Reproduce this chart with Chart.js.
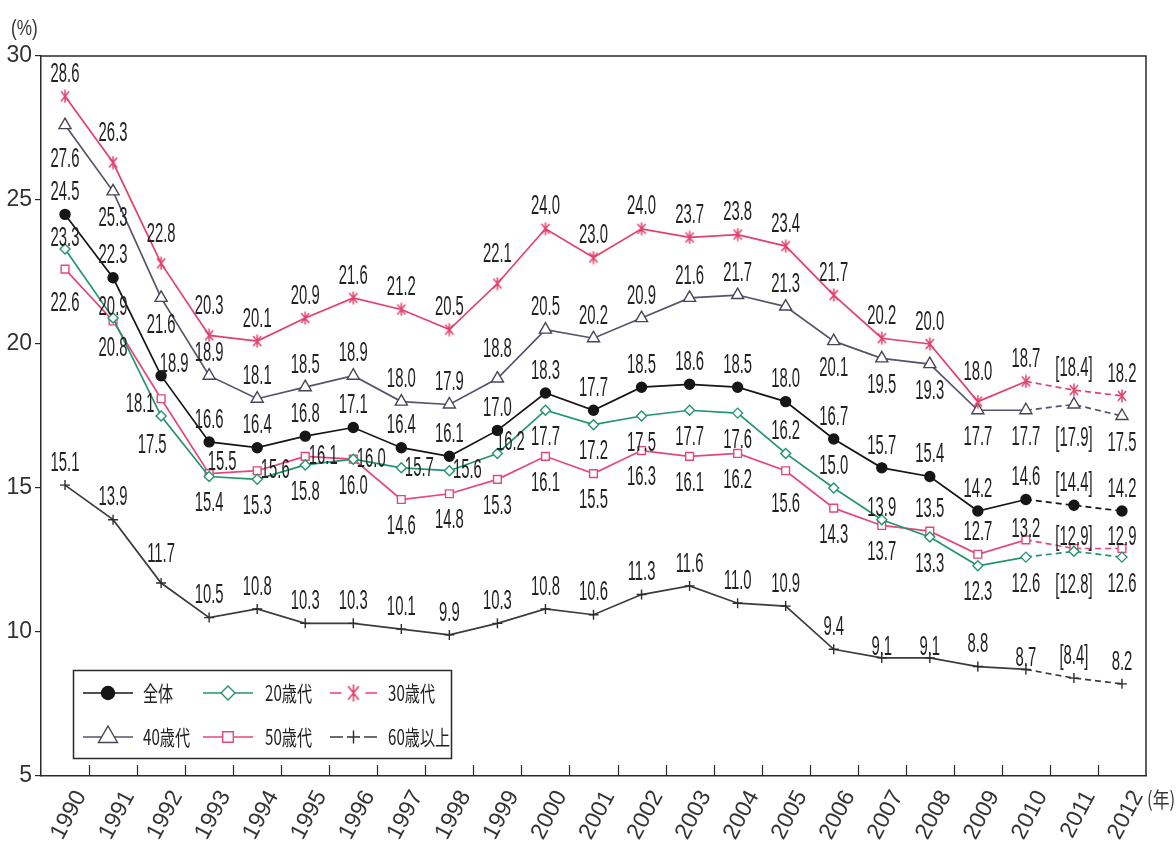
<!DOCTYPE html>
<html lang="ja">
<head>
<meta charset="utf-8">
<title>年齢階層別の推移</title>
<script src="https://cdn.jsdelivr.net/npm/chart.js@4.4.1/dist/chart.umd.min.js"></script>
<style>
  html, body { margin: 0; padding: 0; background: #fff; }
  #wrap { position: relative; width: 1176px; height: 848px; }
</style>
</head>
<body>
<div id="wrap"><canvas id="c" width="1176" height="848"></canvas></div>
<script>
// ---- data ----
const years = ['1990','1991','1992','1993','1994','1995','1996','1997','1998','1999','2000',
               '2001','2002','2003','2004','2005','2006','2007','2008','2009','2010','2011','2012'];
const estimateYears = ['2011'];   // values shown in brackets
const dashedFrom = '2010';        // lines are dashed from this year on

const overall = [24.5, 22.3, 18.9, 16.6, 16.4, 16.8, 17.1, 16.4, 16.1, 17.0, 18.3, 17.7, 18.5, 18.6, 18.5, 18.0, 16.7, 15.7, 15.4, 14.2, 14.6, 14.4, 14.2];
const age20   = [23.3, 20.9, 17.5, 15.4, 15.3, 15.8, 16.0, 15.7, 15.6, 16.2, 17.7, 17.2, 17.5, 17.7, 17.6, 16.2, 15.0, 13.9, 13.3, 12.3, 12.6, 12.8, 12.6];
const age30   = [28.6, 26.3, 22.8, 20.3, 20.1, 20.9, 21.6, 21.2, 20.5, 22.1, 24.0, 23.0, 24.0, 23.7, 23.8, 23.4, 21.7, 20.2, 20.0, 18.0, 18.7, 18.4, 18.2];
const age40   = [27.6, 25.3, 21.6, 18.9, 18.1, 18.5, 18.9, 18.0, 17.9, 18.8, 20.5, 20.2, 20.9, 21.6, 21.7, 21.3, 20.1, 19.5, 19.3, 17.7, 17.7, 17.9, 17.5];
const age50   = [22.6, 20.8, 18.1, 15.5, 15.6, 16.1, 16.0, 14.6, 14.8, 15.3, 16.1, 15.5, 16.3, 16.1, 16.2, 15.6, 14.3, 13.7, 13.5, 12.7, 13.2, 12.9, 12.9];
const age60   = [15.1, 13.9, 11.7, 10.5, 10.8, 10.3, 10.3, 10.1,  9.9, 10.3, 10.8, 10.6, 11.3, 11.6, 11.0, 10.9,  9.4,  9.1,  9.1,  8.8,  8.7,  8.4,  8.2];

const yTicks = [5, 10, 15, 20, 25, 30];

// ---- where each value label sits relative to its marker ----
const spotOffsets = {
  a: [0, -24], A: [0, -31], c: [0, -13],
  b: [0, 25],  B: [0, 32],  bl: [-9, 27],
  r: [18, -2], ar: [13, -13], l: [-21, 4]
};
const overallSpots = ['a','a','ar','a','a','a','a','a','a','a','a','a','a','a','a','a','a','a','a','a','a','a','a'];
const age20Spots   = ['c','c','bl','b','b','b','b','r','r','ar','b','b','b','b','b','a','a','c','b','b','b','B','b'];
const age30Spots   = ['a','A','A','A','a','a','a','a','a','A','a','a','a','a','a','a','a','a','a','A','a','a','a'];
const age40Spots   = ['B','b','b','a','a','a','a','a','a','A','a','a','a','a','a','a','b','b','b','b','b','B','b'];
const age50Spots   = ['B','b','l','ar','r','r','r','b','b','b','b','b','b','b','b','B','b','b','a','a','c','c','c'];
const age60Spots   = ['a','a','A','a','a','a','a','a','a','a','a','a','a','a','a','a','a','c','c','a','c','a','a'];

// ---- styling ----
const INK = '#2a2a2a';
const NUM_FONT = '"Liberation Sans", Arial, sans-serif';
const AXIS_FONT = '"Liberation Sans Narrow", "Liberation Sans", Arial, sans-serif';
const JP_FONT = '"Noto Sans CJK JP", "Noto Sans", sans-serif';

function makeAsterisk(size, color, lw) {
  const cv = document.createElement('canvas');
  cv.width = size; cv.height = size;
  const g = cv.getContext('2d');
  g.strokeStyle = color; g.lineWidth = lw;
  const m = size / 2, r = size / 2 - 0.5, d = r * 0.62;
  g.beginPath();
  g.moveTo(m, m - r); g.lineTo(m, m + r);
  g.moveTo(m - d, m - r * 0.78); g.lineTo(m + d, m + r * 0.78);
  g.moveTo(m - d, m + r * 0.78); g.lineTo(m + d, m - r * 0.78);
  g.stroke();
  return cv;
}
const PINK30 = '#e2416d';
const star = makeAsterisk(14, PINK30, 1.5);
const starBig = makeAsterisk(18, PINK30, 1.6);

const series = [
  { label: '全体',    data: overall, spots: overallSpots, line: '#161616', edge: '#161616', fill: '#161616', style: 'circle',   r: 5,   lr: 6.5, gap: false },
  { label: '20歳代',  data: age20,   spots: age20Spots,   line: '#22966a', edge: '#22966a', fill: '#ffffff', style: 'rectRot',  r: 5,   lr: 7,   gap: false },
  { label: '30歳代',  data: age30,   spots: age30Spots,   line: PINK30,    edge: PINK30,    fill: PINK30,    style: star,       r: 6,   lr: 8,   gap: true, big: starBig },
  { label: '40歳代',  data: age40,   spots: age40Spots,   line: '#58526b', edge: '#4a4458', fill: '#ffffff', style: 'triangle', r: 7,   lr: 11,  gap: false },
  { label: '50歳代',  data: age50,   spots: age50Spots,   line: '#e54878', edge: '#e54878', fill: '#ffffff', style: 'rect',     r: 5.5, lr: 7.5, gap: false },
  { label: '60歳以上', data: age60,  spots: age60Spots,   line: '#3c3c3c', edge: '#2c2c2c', fill: '#2c2c2c', style: 'cross',    r: 5,   lr: 6.5, gap: true }
];

const dashIndex = years.indexOf(dashedFrom);

const datasets = series.map(s => ({
  label: s.label,
  data: s.data,
  borderColor: s.line,
  borderWidth: 1.7,
  backgroundColor: s.fill,
  pointStyle: s.style,
  pointRadius: s.r,
  pointBackgroundColor: s.fill,
  pointBorderColor: s.edge,
  pointBorderWidth: 1.4,
  tension: 0,
  fill: false,
  segment: {
    borderDash: ctx => (ctx.p0DataIndex >= dashIndex ? [6, 4] : undefined)
  }
}));

function squeezedText(ctx, text, x, y, size, squeeze, family, align) {
  ctx.save();
  ctx.translate(x, y);
  ctx.scale(squeeze, 1);
  ctx.font = size + 'px ' + family;
  ctx.textAlign = align || 'center';
  ctx.textBaseline = 'alphabetic';
  ctx.fillText(text, 0, size * 0.358);
  ctx.restore();
}

// value labels next to every marker
const valueLabels = {
  id: 'valueLabels',
  afterDatasetsDraw(chart) {
    const ctx = chart.ctx;
    ctx.save();
    ctx.fillStyle = '#222';
    chart.data.datasets.forEach((ds, di) => {
      const meta = chart.getDatasetMeta(di);
      const spots = series[di].spots;
      meta.data.forEach((pt, i) => {
        const v = ds.data[i];
        let txt = v.toFixed(1);
        if (estimateYears.includes(years[i])) txt = '[' + txt + ']';
        const off = spotOffsets[spots[i]] || spotOffsets.a;
        squeezedText(ctx, txt, pt.x + off[0], pt.y + off[1], 27, 0.55, NUM_FONT);
      });
    });
    ctx.restore();
  }
};

// frame, inner x tick marks, unit captions
const frame = {
  id: 'frame',
  afterDraw(chart) {
    const { ctx, chartArea: a } = chart;
    const xs = chart.scales.x;
    ctx.save();
    ctx.strokeStyle = INK;
    ctx.lineWidth = 1.5;
    ctx.beginPath();
    ctx.moveTo(a.left, a.top); ctx.lineTo(a.right, a.top); ctx.lineTo(a.right, a.bottom);
    ctx.stroke();
    ctx.lineWidth = 1.2;
    ctx.beginPath();
    for (let i = 1; i < years.length; i++) {
      const x = Math.round((xs.getPixelForValue(i - 1) + xs.getPixelForValue(i)) / 2) + 0.5;
      ctx.moveTo(x, a.bottom); ctx.lineTo(x, a.bottom - 11);
    }
    ctx.stroke();
    ctx.fillStyle = '#333';
    squeezedText(ctx, '(%)', 11, 27, 22, 0.78, NUM_FONT, 'left');
    squeezedText(ctx, '(年)', 1147, 799, 21, 0.8, JP_FONT, 'left');
    ctx.restore();
  }
};

// boxed legend in the lower-left corner of the plot
const boxLegend = {
  id: 'boxLegend',
  afterDraw(chart) {
    const ctx = chart.ctx;
    const box = { x: 73, y: 670, w: 378, h: 88 };
    const rows = [693, 737];
    const cols = [{ l: 83, r: 133, t: 143 }, { l: 203, r: 253, t: 265 }, { l: 330, r: 377, t: 388 }];
    ctx.save();
    ctx.fillStyle = '#fff';
    ctx.fillRect(box.x, box.y, box.w, box.h);
    ctx.strokeStyle = INK;
    ctx.lineWidth = 1.5;
    ctx.strokeRect(box.x + 0.5, box.y + 0.5, box.w, box.h);
    series.forEach((s, k) => {
      const row = rows[Math.floor(k / 3)];
      const col = cols[k % 3];
      const cx = (col.l + col.r) / 2;
      ctx.strokeStyle = s.line;
      ctx.lineWidth = 1.6;
      ctx.beginPath();
      if (s.gap) {
        ctx.moveTo(col.l, row); ctx.lineTo(cx - s.lr - 4, row);
        ctx.moveTo(cx + s.lr + 4, row); ctx.lineTo(col.r, row);
      } else {
        ctx.moveTo(col.l, row); ctx.lineTo(col.r, row);
      }
      ctx.stroke();
      ctx.fillStyle = s.fill;
      ctx.strokeStyle = s.edge;
      ctx.lineWidth = 1.4;
      const style = s.big || s.style;
      Chart.helpers.drawPoint(ctx, { pointStyle: style, radius: s.lr, borderWidth: 1.4, rotation: 0 }, cx, row);
      ctx.fillStyle = '#222';
      squeezedText(ctx, s.label, col.t, row, 21, 0.72, JP_FONT, 'left');
    });
    ctx.restore();
  }
};

new Chart(document.getElementById('c'), {
  type: 'line',
  data: { labels: years, datasets },
  options: {
    responsive: false,
    animation: false,
    devicePixelRatio: 1,
    layout: { padding: { top: 56, right: 30, left: 0, bottom: 0 } },
    plugins: { legend: { display: false }, tooltip: { enabled: false } },
    scales: {
      x: {
        type: 'category',
        offset: true,
        grid: { display: false },
        border: { display: true, color: INK, width: 1.5 },
        ticks: {
          autoSkip: false,
          minRotation: 62, maxRotation: 62,
          labelOffset: 16,
          padding: 2,
          color: '#333',
          font: { family: AXIS_FONT, size: 23 }
        },
        afterFit(scale) { scale.height = 72; }
      },
      y: {
        min: 5, max: 30,
        afterBuildTicks(scale) { scale.ticks = yTicks.map(v => ({ value: v })); },
        grid: { drawOnChartArea: false, drawTicks: true, tickLength: 6, color: INK, lineWidth: 1.2 },
        border: { display: true, color: INK, width: 1.5 },
        ticks: { padding: 3, color: '#333', font: { family: AXIS_FONT, size: 23 } },
        afterFit(scale) { scale.width = 41; }
      }
    }
  },
  plugins: [valueLabels, frame, boxLegend]
});
</script>
</body>
</html>
